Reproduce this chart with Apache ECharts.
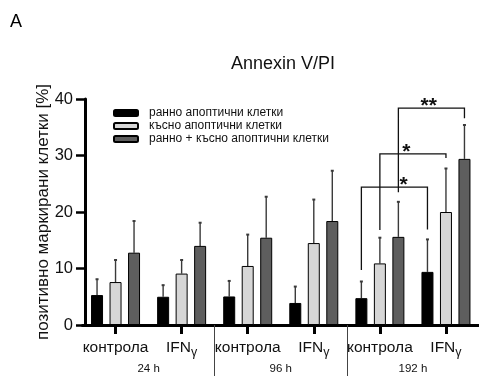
<!DOCTYPE html>
<html>
<head>
<meta charset="utf-8">
<script src="https://cdn.jsdelivr.net/npm/echarts@6/dist/echarts.min.js"></script>
<style>
html,body{margin:0;padding:0;background:#fff;}
#c{width:479px;height:376px;}
</style>
</head>
<body>
<div id="c"></div>
<script>
// ---- data ----
const categories = ['контрола', 'IFNγ', 'контрола', 'IFNγ', 'контрола', 'IFNγ'];
const timeLabels = ['24 h', '96 h', '192 h'];
const seriesNames = ['ранно апоптични клетки', 'късно апоптични клетки', 'ранно + късно апоптични клетки'];
const early = [5.3, 5.0, 5.05, 3.9, 4.75, 9.4];
const earlySD = [2.8, 2.05, 2.75, 2.9, 2.95, 5.75];
const late = [7.6, 9.1, 10.45, 14.5, 10.9, 20.0];
const lateSD = [3.9, 2.4, 5.55, 7.7, 4.55, 7.7];
const total = [12.8, 14.0, 15.45, 18.4, 15.6, 29.4];
const totalSD = [5.6, 4.1, 7.25, 8.9, 6.2, 6.0];
const yTicks = [0, 10, 20, 30, 40];
// significance brackets: [leftCat, leftSeries, rightCat, rightSeries, leftEnd, top, rightEnd, starPos]
const bracketDefs = [
  [4, 0, 5, 0, 9.75, 24.4, 16.9, 4.36],
  [4, 1, 5, 1, 16.8, 30.3, 29.55, 4.40],
  [4, 2, 5, 2, 23.5, 38.4, 36.6, 4.74]
];
const bracketLabels = ['*', '*', '**'];

// ---- styles ----
const FONT = 'Liberation Sans, Arial, sans-serif';
const BAR_W = 12;
const BAR_GAP = 6.5;
const colors = ['#000000', '#d6d6d6', '#5e5e5e'];

const means = [early, late, total];
const sds = [earlySD, lateSD, totalSD];
const errData = [];
for (let s = 0; s < 3; s++) {
  for (let i = 0; i < categories.length; i++) {
    errData.push([i, s, means[s][i], sds[s][i]]);
  }
}

const chart = echarts.init(document.getElementById('c'));

function errRender(params, api) {
  const cat = api.value(0), s = api.value(1), m = api.value(2), sd = api.value(3);
  const base = api.coord([cat, m]);
  const top = api.coord([cat, m + sd]);
  const x = base[0] + (s - 1) * (BAR_W + BAR_GAP);
  return {
    type: 'group',
    children: [
      {type: 'line', shape: {x1: x, y1: base[1], x2: x, y2: top[1]}, style: {stroke: '#3a3a3a', lineWidth: 1.4}},
      {type: 'line', shape: {x1: x - 1.5, y1: top[1], x2: x + 1.5, y2: top[1]}, style: {stroke: '#3a3a3a', lineWidth: 2}}
    ]
  };
}

function bracketRender(params, api) {
  const d = bracketDefs[params.dataIndex];
  const step = BAR_W + BAR_GAP;
  const band = api.size([1, 0])[0];
  const lx = api.coord([d[0], 0])[0] + (d[1] - 1) * step;
  const rx = api.coord([d[2], 0])[0] + (d[3] - 1) * step;
  const ly = api.coord([d[0], d[4]])[1];
  const ty = api.coord([d[0], d[5]])[1];
  const ry = api.coord([d[2], d[6]])[1];
  const sx = api.coord([0, 0])[0] + d[7] * band;
  return {
    type: 'group',
    children: [
      {type: 'polyline', shape: {points: [[lx, ly], [lx, ty], [rx, ty], [rx, ry]]},
        style: {stroke: '#111', lineWidth: 1.3, fill: null}},
      {type: 'text', x: sx, y: ty + 9,
        style: {text: bracketLabels[params.dataIndex], fontSize: 21, fontWeight: 'bold', fontFamily: FONT, fill: '#111',
          align: 'center', verticalAlign: 'bottom'}}
    ]
  };
}

const option = {
  animation: false,
  backgroundColor: '#fff',
  title: [
    {text: 'A', left: 5, top: 8, textStyle: {fontSize: 18, fontWeight: 'normal', color: '#000', fontFamily: FONT}},
    {text: 'Annexin V/PI', left: 226, top: 50, textStyle: {fontSize: 18, fontWeight: 'normal', color: '#111', fontFamily: FONT}}
  ],
  legend: {
    orient: 'vertical',
    left: 108,
    top: 102,
    itemWidth: 24,
    itemHeight: 6,
    itemGap: 1,
    icon: 'roundRect',
    textStyle: {fontSize: 12, color: '#111', fontFamily: FONT, padding: [0, 0, 0, 6]},
    data: seriesNames
  },
  grid: {left: 82.5, top: 99, width: 400, height: 226, containLabel: false},
  xAxis: [
    {
      type: 'category',
      data: categories,
      position: 'bottom',
      axisLine: {show: true, lineStyle: {color: '#000', width: 3}},
      axisTick: {show: true, alignWithLabel: true, interval: 0, length: 9, lineStyle: {color: '#000', width: 3}},
      axisLabel: {
        interval: 0,
        margin: 15, color: '#111', fontFamily: FONT, fontSize: 15.5,
        formatter: v => v === 'IFNγ' ? '{n|IFN}{g|γ}' : v,
        rich: {
          n: {fontSize: 15.5, fontFamily: FONT, color: '#111', padding: [0, 0, 3, 0], verticalAlign: 'bottom'},
          g: {fontSize: 12.5, fontFamily: FONT, color: '#111', verticalAlign: 'bottom'}
        }
      },
      splitLine: {show: false}
    },
    {
      type: 'category',
      data: timeLabels,
      position: 'bottom',
      axisLine: {show: false},
      axisTick: {show: true, alignWithLabel: false, length: 52, interval: (i) => i > 0,
        lineStyle: {color: '#444', width: 1}},
      axisLabel: {interval: 0, margin: 38, fontSize: 11.5, color: '#111', fontFamily: FONT},
      splitLine: {show: false}
    }
  ],
  yAxis: {
    type: 'value',
    min: 0, max: 40, interval: 10,
    offset: -2.5,
    name: 'позитивно маркирани клетки [%]',
    nameLocation: 'middle',
    nameGap: 33,
    nameMoveOverlap: false,
    nameTextStyle: {fontSize: 17, color: '#111', fontFamily: FONT},
    axisLine: {show: true, lineStyle: {color: '#000', width: 3}},
    axisTick: {show: true, length: 9, lineStyle: {color: '#000', width: 2.5}},
    axisLabel: {margin: 12, fontSize: 16.5, color: '#111', fontFamily: FONT,
      formatter: v => yTicks.includes(v) ? String(v) : ''},
    splitLine: {show: false}
  },
  series: [
    {name: seriesNames[0], type: 'bar', data: early, barWidth: BAR_W, barGap: (BAR_GAP / BAR_W * 100) + '%',
      itemStyle: {color: colors[0], borderColor: '#000', borderWidth: 1}},
    {name: seriesNames[1], type: 'bar', data: late, barWidth: BAR_W, barGap: (BAR_GAP / BAR_W * 100) + '%',
      itemStyle: {color: colors[1], borderColor: '#000', borderWidth: 1}},
    {name: seriesNames[2], type: 'bar', data: total, barWidth: BAR_W, barGap: (BAR_GAP / BAR_W * 100) + '%',
      itemStyle: {color: colors[2], borderColor: '#000', borderWidth: 1}},
    {type: 'custom', renderItem: errRender, data: errData, xAxisIndex: 0, z: 1,
      encode: {x: 0, y: [2, 3]}, silent: true},
    {type: 'custom', renderItem: bracketRender, data: bracketDefs.map(d => [d[0], d[5]]), xAxisIndex: 0, z: 5,
      encode: {x: 0, y: 1}, silent: true}
  ]
};
chart.setOption(option);
</script>
</body>
</html>
